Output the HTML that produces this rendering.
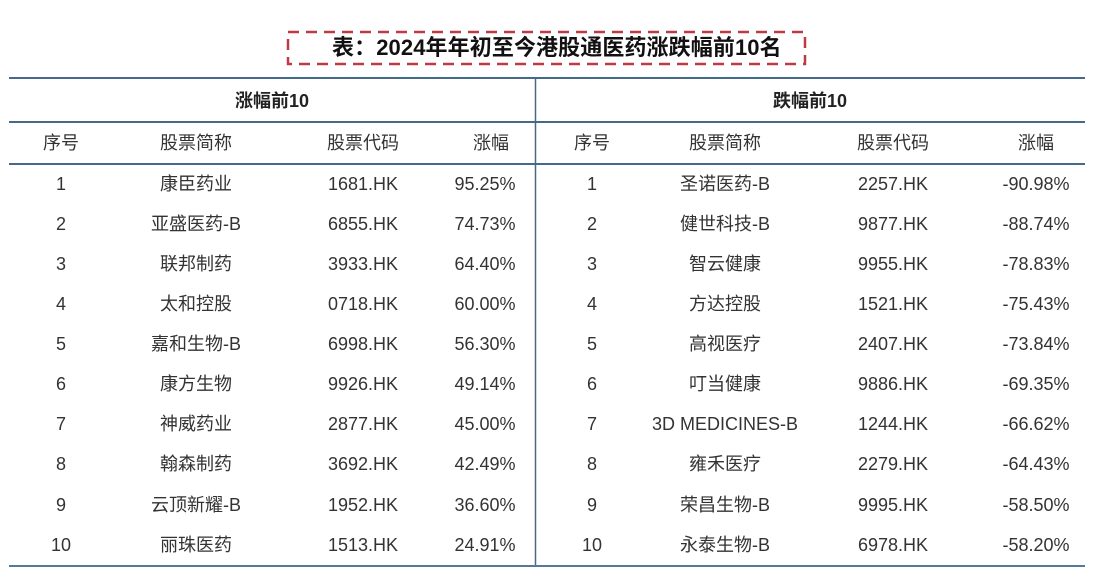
<!DOCTYPE html>
<html><head><meta charset="utf-8">
<style>
html,body{margin:0;padding:0;background:#fff;}
#c{position:relative;width:1107px;height:584px;overflow:hidden;background:#fff;
font-family:"Liberation Sans","Noto Sans CJK SC",sans-serif;color:#333;}
.t{position:absolute;width:240px;margin-left:-120px;text-align:center;font-size:18px;line-height:24px;height:24px;white-space:nowrap;}
.h{position:absolute;height:0;border-top:2px solid #46698a;}
.b{font-weight:bold;color:#222;}
</style></head><body>
<div id="c">
<svg width="1107" height="584" style="position:absolute;left:0;top:0">
<rect x="288" y="32" width="517" height="32" fill="none" stroke="#be3a44" stroke-width="2.5" stroke-dasharray="11 7"/>
<line x1="535.5" y1="78" x2="535.5" y2="566" stroke="#46698a" stroke-width="1.5"/>
</svg>
<div style="position:absolute;left:332px;top:34px;font-size:22px;line-height:28px;font-weight:bold;color:#111;white-space:nowrap;letter-spacing:0.1px;">表：2024年年初至今港股通医药涨跌幅前10名</div>
<div class="h" style="left:9px;width:1076px;top:77px;"></div>
<div class="h" style="left:9px;width:1076px;top:121px;"></div>
<div class="h" style="left:9px;width:1076px;top:163px;"></div>
<div class="h" style="left:9px;width:1076px;top:565px;border-top-color:#54799a;"></div>

<div class="t b" style="left:272px;top:89px;">涨幅前10</div>
<div class="t b" style="left:810px;top:89px;">跌幅前10</div>

<div class="t" style="left:61px;top:131px;">序号</div>
<div class="t" style="left:196px;top:131px;">股票简称</div>
<div class="t" style="left:363px;top:131px;">股票代码</div>
<div class="t" style="left:491px;top:131px;">涨幅</div>
<div class="t" style="left:592px;top:131px;">序号</div>
<div class="t" style="left:725px;top:131px;">股票简称</div>
<div class="t" style="left:893px;top:131px;">股票代码</div>
<div class="t" style="left:1036px;top:131px;">涨幅</div>

<div class="t" style="left:61px;top:172px;">1</div><div class="t" style="left:196px;top:172px;">康臣药业</div><div class="t" style="left:363px;top:172px;">1681.HK</div><div class="t" style="left:485px;top:172px;">95.25%</div>
<div class="t" style="left:592px;top:172px;">1</div><div class="t" style="left:725px;top:172px;">圣诺医药-B</div><div class="t" style="left:893px;top:172px;">2257.HK</div><div class="t" style="left:1036px;top:172px;">-90.98%</div>

<div class="t" style="left:61px;top:212px;">2</div><div class="t" style="left:196px;top:212px;">亚盛医药-B</div><div class="t" style="left:363px;top:212px;">6855.HK</div><div class="t" style="left:485px;top:212px;">74.73%</div>
<div class="t" style="left:592px;top:212px;">2</div><div class="t" style="left:725px;top:212px;">健世科技-B</div><div class="t" style="left:893px;top:212px;">9877.HK</div><div class="t" style="left:1036px;top:212px;">-88.74%</div>

<div class="t" style="left:61px;top:252px;">3</div><div class="t" style="left:196px;top:252px;">联邦制药</div><div class="t" style="left:363px;top:252px;">3933.HK</div><div class="t" style="left:485px;top:252px;">64.40%</div>
<div class="t" style="left:592px;top:252px;">3</div><div class="t" style="left:725px;top:252px;">智云健康</div><div class="t" style="left:893px;top:252px;">9955.HK</div><div class="t" style="left:1036px;top:252px;">-78.83%</div>

<div class="t" style="left:61px;top:292px;">4</div><div class="t" style="left:196px;top:292px;">太和控股</div><div class="t" style="left:363px;top:292px;">0718.HK</div><div class="t" style="left:485px;top:292px;">60.00%</div>
<div class="t" style="left:592px;top:292px;">4</div><div class="t" style="left:725px;top:292px;">方达控股</div><div class="t" style="left:893px;top:292px;">1521.HK</div><div class="t" style="left:1036px;top:292px;">-75.43%</div>

<div class="t" style="left:61px;top:332px;">5</div><div class="t" style="left:196px;top:332px;">嘉和生物-B</div><div class="t" style="left:363px;top:332px;">6998.HK</div><div class="t" style="left:485px;top:332px;">56.30%</div>
<div class="t" style="left:592px;top:332px;">5</div><div class="t" style="left:725px;top:332px;">高视医疗</div><div class="t" style="left:893px;top:332px;">2407.HK</div><div class="t" style="left:1036px;top:332px;">-73.84%</div>

<div class="t" style="left:61px;top:372px;">6</div><div class="t" style="left:196px;top:372px;">康方生物</div><div class="t" style="left:363px;top:372px;">9926.HK</div><div class="t" style="left:485px;top:372px;">49.14%</div>
<div class="t" style="left:592px;top:372px;">6</div><div class="t" style="left:725px;top:372px;">叮当健康</div><div class="t" style="left:893px;top:372px;">9886.HK</div><div class="t" style="left:1036px;top:372px;">-69.35%</div>

<div class="t" style="left:61px;top:412px;">7</div><div class="t" style="left:196px;top:412px;">神威药业</div><div class="t" style="left:363px;top:412px;">2877.HK</div><div class="t" style="left:485px;top:412px;">45.00%</div>
<div class="t" style="left:592px;top:412px;">7</div><div class="t" style="left:725px;top:412px;">3D MEDICINES-B</div><div class="t" style="left:893px;top:412px;">1244.HK</div><div class="t" style="left:1036px;top:412px;">-66.62%</div>

<div class="t" style="left:61px;top:452px;">8</div><div class="t" style="left:196px;top:452px;">翰森制药</div><div class="t" style="left:363px;top:452px;">3692.HK</div><div class="t" style="left:485px;top:452px;">42.49%</div>
<div class="t" style="left:592px;top:452px;">8</div><div class="t" style="left:725px;top:452px;">雍禾医疗</div><div class="t" style="left:893px;top:452px;">2279.HK</div><div class="t" style="left:1036px;top:452px;">-64.43%</div>

<div class="t" style="left:61px;top:493px;">9</div><div class="t" style="left:196px;top:493px;">云顶新耀-B</div><div class="t" style="left:363px;top:493px;">1952.HK</div><div class="t" style="left:485px;top:493px;">36.60%</div>
<div class="t" style="left:592px;top:493px;">9</div><div class="t" style="left:725px;top:493px;">荣昌生物-B</div><div class="t" style="left:893px;top:493px;">9995.HK</div><div class="t" style="left:1036px;top:493px;">-58.50%</div>

<div class="t" style="left:61px;top:533px;">10</div><div class="t" style="left:196px;top:533px;">丽珠医药</div><div class="t" style="left:363px;top:533px;">1513.HK</div><div class="t" style="left:485px;top:533px;">24.91%</div>
<div class="t" style="left:592px;top:533px;">10</div><div class="t" style="left:725px;top:533px;">永泰生物-B</div><div class="t" style="left:893px;top:533px;">6978.HK</div><div class="t" style="left:1036px;top:533px;">-58.20%</div>
</div>
</body></html>
